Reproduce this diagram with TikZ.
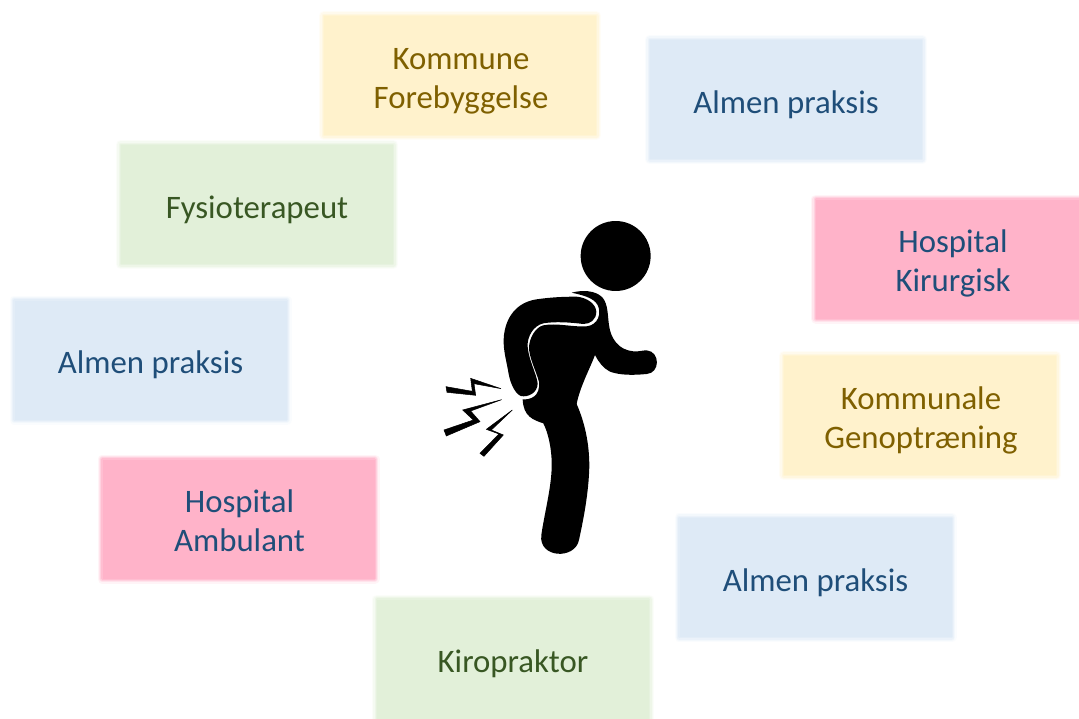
\documentclass[tikz,border=0pt]{standalone}
\usepackage{fontspec}
\setmainfont{Carlito}
\definecolor{boxblue}{HTML}{DEEAF6}
\definecolor{boxyellow}{HTML}{FFF2CC}
\definecolor{boxgreen}{HTML}{E2F0D9}
\definecolor{boxpink}{HTML}{FFB3C9}
\definecolor{txtblue}{HTML}{1F4E79}
\definecolor{txtyellow}{HTML}{7F6000}
\definecolor{txtgreen}{HTML}{385723}
\newcommand{\twolines}[2]{\hspace*{2pt}\makebox[0pt]{\raisebox{22.7pt}[0pt][0pt]{#1}}\makebox[0pt]{\raisebox{-16.3pt}[0pt][0pt]{#2}}}
\tikzset{
  softbox/.style={rectangle,inner sep=0pt,minimum width=272pt,minimum height=119pt,align=center,
    font=\fontsize{32.8}{39}\selectfont,line join=round,
    execute at begin node={\rule{0pt}{33pt}},
    preaction={draw=#1!15,line width=10pt},
    preaction={draw=#1!35,line width=7.5pt},
    preaction={draw=#1!60,line width=5pt},
    preaction={draw=#1!85,line width=2.5pt},
    fill=#1},
  figure/.style={fill=black,draw=none},
  boltline/.style={fill=black,draw=black,line width=0.5pt,line join=miter}
}
\begin{document}
\begin{tikzpicture}[x=1pt,y=-1pt]
\useasboundingbox (0,0) rectangle (1079,718);
\clip (0,0) rectangle (1079,718);
\fill[white] (0,0) rectangle (1079,718);
\node[softbox=boxyellow,text=txtyellow] (n1) at (460,75.5) {\twolines{Kommune}{Forebyggelse}};
\node[softbox=boxblue,text=txtblue] (n2) at (786,99.5) {Almen praksis};
\node[softbox=boxpink,text=txtblue] (n3) at (952,259) {\twolines{Hospital}{Kirurgisk}};
\node[softbox=boxyellow,text=txtyellow] (n4) at (920,415.5) {\twolines{Kommunale}{Genoptræning}};
\node[softbox=boxblue,text=txtblue] (n5) at (815.5,577.5) {Almen praksis};
\node[softbox=boxgreen,text=txtgreen] (n6) at (513,659) {Kiropraktor};
\node[softbox=boxpink,text=txtblue] (n7) at (238.5,519) {\twolines{Hospital}{Ambulant}};
\node[softbox=boxblue,text=txtblue] (n8) at (150.5,360) {Almen praksis};
\node[softbox=boxgreen,text=txtgreen] (n9) at (257,204.5) {Fysioterapeut};
\begin{scope}[shift={(430,210)},x=0.3333pt,y=-0.3333pt]
\fill[figure] (557,138) circle (105);
% body and leg
\fill[figure] (425,248) .. controls (455,240) and (495,240) .. (517,262)
 .. controls (535,282) and (533,320) .. (537,345)
 .. controls (542,385) and (565,420) .. (610,424)
 .. controls (625,426) and (635,421) .. (650,421)
 .. controls (692,425) and (690,490) .. (650,492)
 .. controls (610,496) and (570,496) .. (540,485)
 .. controls (520,475) and (505,455) .. (495,435)
 .. controls (478,480) and (450,530) .. (440,582)
 .. controls (465,640) and (478,700) .. (478,770)
 .. controls (476,850) and (460,930) .. (447,990)
 .. controls (435,1050) and (325,1045) .. (334,975)
 .. controls (345,900) and (368,820) .. (365,750)
 .. controls (363,710) and (355,670) .. (340,640)
 .. controls (310,630) and (280,620) .. (278,568)
 .. controls (300,570) and (332,560) .. (327,515)
 .. controls (317,480) and (296,440) .. (297,410)
 .. controls (299,385) and (315,352) .. (340,346)
 .. controls (380,338) and (430,352) .. (470,349)
 .. controls (505,345) and (515,310) .. (503,285)
 .. controls (490,262) and (455,255) .. (425,248) -- cycle;
% arm along the back
\fill[figure] (440,260) .. controls (470,263) and (497,280) .. (499,305)
 .. controls (499,330) and (480,342) .. (460,342)
 .. controls (420,337) and (375,334) .. (340,340)
 .. controls (310,347) and (291,380) .. (293,410)
 .. controls (296,450) and (319,490) .. (323,520)
 .. controls (323,548) and (295,563) .. (272,558)
 .. controls (250,547) and (238,510) .. (234,480)
 .. controls (226,440) and (218,410) .. (222,375)
 .. controls (230,310) and (270,275) .. (320,268)
 .. controls (360,262) and (400,260) .. (440,260) -- cycle;
% pain bolts
\fill[boltline] (213,536) -- (122,505) -- (127,544) -- (48,530) -- (51,547) -- (137,556) -- (132,521) -- cycle;
\fill[boltline] (215,569) -- (98,600) -- (130,630) -- (42,660) -- (49,678) -- (150,635) -- (122,603) -- cycle;
\fill[boltline] (247,600) -- (169,658) -- (207,672) -- (150,730) -- (162,739) -- (220,675) -- (184,660) -- cycle;
\end{scope}
\end{tikzpicture}
\end{document}
